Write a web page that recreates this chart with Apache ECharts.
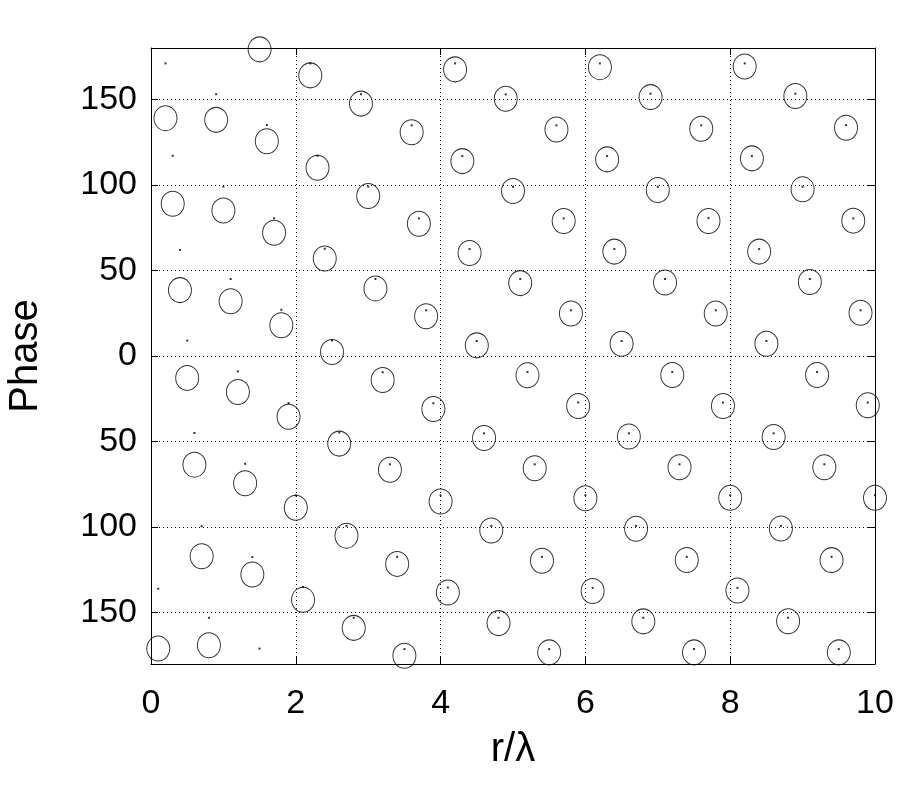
<!DOCTYPE html>
<html>
<head>
<meta charset="utf-8">
<script src="https://cdn.jsdelivr.net/npm/echarts@6/dist/echarts.min.js"></script>
<style>
html,body{margin:0;padding:0;background:#fff;}
#chart{width:900px;height:800px;}
</style>
</head>
<body>
<div id="chart"></div>
<script>
// r / lambda sample positions
const rOverLambda = [
 0.1,0.2,0.3,0.4,0.5,0.6,0.7,0.8,0.9,1.0,
 1.1,1.2,1.3,1.4,1.5,1.6,1.7,1.8,1.9,2.0,
 2.1,2.2,2.3,2.4,2.5,2.6,2.7,2.8,2.9,3.0,
 3.1,3.2,3.3,3.4,3.5,3.6,3.7,3.8,3.9,4.0,
 4.1,4.2,4.3,4.4,4.5,4.6,4.7,4.8,4.9,5.0,
 5.1,5.2,5.3,5.4,5.5,5.6,5.7,5.8,5.9,6.0,
 6.1,6.2,6.3,6.4,6.5,6.6,6.7,6.8,6.9,7.0,
 7.1,7.2,7.3,7.4,7.5,7.6,7.7,7.8,7.9,8.0,
 8.1,8.2,8.3,8.4,8.5,8.6,8.7,8.8,8.9,9.0,
 9.1,9.2,9.3,9.4,9.5,9.6,9.7,9.8,9.9,10.0
];
// phase shown by open circles
const circlePhase = [
 -171,139,89,38.5,-12.8,-63.5,-117,-169,138,85,
 32,-21,-74.4,-127.7,179.2,125.5,72,18,-35.5,-88.7,
 -142.5,164,110,57,2.3,-51.2,-105,-158.9,147.5,93.5,
 39.5,-14,-66.5,-121.5,-175.2,130.8,77.3,23.2,-31,-85,
 -138.2,167.5,113.9,60.2,6.2,-47.9,-102,-156.1,150.3,96.4,
 42.6,-11.3,-65.6,-119.7,-173.2,132.4,78.9,24.8,-29.2,-83.1,
 -137.3,168.8,114.9,61,7.2,-47.1,-101,-155.1,151.3,97,
 43,-11.1,-65,-119.2,-173.2,132.8,78.9,24.8,-29.2,-82.9,
 -137,169.2,115.5,61,7.2,-47.3,-100.8,-155,151.9,97.4,
 43.2,-11.1,-65,-119.3,-173.2,133.4,79.1,25.3,-28.8,-82.9
];
// phase shown by small dots
const dotPhase = [
 -136,171,117,62,9,-45,-99.5,-153,153,99,
 45,-9,-63,-117.5,-171,135,80.5,27,-27.5,-81.5,
 -135,171,117,62.7,9,-44.7,-99.3,-153,153,99,
 45,-9.5,-63.3,-117.4,-171.3,134.8,80.4,26.7,-27.6,-81.4,
 -135.3,171,116.8,62.5,8.8,-45.2,-99.3,-153,152.9,98.9,
 45,-9.3,-63.3,-117.4,-171.3,134.8,80.4,26.7,-27.2,-81.4,
 -135.5,171,116.8,62.5,8.8,-45.2,-99.3,-153,153.3,98.9,
 45,-9.3,-63.3,-117.4,-171.3,134.8,80.6,26.7,-27.2,-81.4,
 -135.5,171,116.8,62.5,8.8,-45.2,-99.3,-153,153.3,98.9,
 45,-9.3,-63.3,-117.4,-171.3,134.9,80.4,26.7,-27.2,-81.4
];
const xTickValues = [0, 2, 4, 6, 8, 10];
const yTickValues = [-150, -100, -50, 0, 50, 100, 150];
const yTickLabels = ['150', '100', '50', '0', '50', '100', '150'];

const FONT = 'Liberation Sans, Arial, Helvetica, sans-serif';
const chart = echarts.init(document.getElementById('chart'), null, {renderer: 'canvas'});

const circleData = rOverLambda.map((x, i) => [x, circlePhase[i]]);
const dotData = rOverLambda.map((x, i) => [x, dotPhase[i]]);

const tickStyle = {show: true, inside: true, length: 7, lineStyle: {color: '#000', width: 1}};
const lineStyleAxis = {show: true, onZero: false, lineStyle: {color: '#000', width: 1}};

chart.setOption({
  animation: false,
  backgroundColor: '#fff',
  grid: {left: 151, right: 25, top: 48, bottom: 136, containLabel: false, outerBoundsMode: 'none'},
  xAxis: [{
    type: 'value', min: 0, max: 10, interval: 2,
    position: 'bottom',
    name: 'r/\u03bb', nameLocation: 'middle', nameGap: 66,
    nameTextStyle: {fontFamily: FONT, fontSize: 40, color: '#000'},
    axisLine: lineStyleAxis,
    axisTick: tickStyle,
    axisLabel: {fontFamily: FONT, fontSize: 34, color: '#000', margin: 23,
      formatter: v => (xTickValues.indexOf(v) >= 0 ? String(v) : '')},
    splitLine: {show: true, lineStyle: {color: '#000', width: 1, type: [1, 3]}}
  }, {
    type: 'value', min: 0, max: 10, interval: 2, position: 'top',
    axisLine: lineStyleAxis, axisTick: tickStyle, axisLabel: {show: false}, splitLine: {show: false}
  }],
  yAxis: [{
    type: 'value', min: -180, max: 180,
    position: 'left',
    name: 'Phase', nameLocation: 'middle', nameGap: 105, nameRotate: 90,
    nameTextStyle: {fontFamily: FONT, fontSize: 40, color: '#000'},
    axisLine: lineStyleAxis,
    axisTick: Object.assign({customValues: yTickValues}, tickStyle),
    axisLabel: {fontFamily: FONT, fontSize: 34, color: '#000', margin: 14,
      customValues: yTickValues,
      formatter: v => { const i = yTickValues.indexOf(v); return i >= 0 ? yTickLabels[i] : ''; }},
    splitLine: {show: false}
  }, {
    type: 'value', min: -180, max: 180, position: 'right',
    axisLine: lineStyleAxis,
    axisTick: Object.assign({customValues: yTickValues}, tickStyle),
    axisLabel: {show: false, customValues: yTickValues}, splitLine: {show: false}
  }],
  series: [{
    name: 'circles', type: 'scatter', xAxisIndex: 0, yAxisIndex: 0,
    data: circleData, symbol: 'circle', symbolSize: [23, 25], clip: false,
    itemStyle: {color: 'rgba(0,0,0,0)', borderColor: '#000', borderWidth: 1},
    z: 3,
    markLine: {
      silent: true, symbol: 'none', label: {show: false}, animation: false,
      lineStyle: {color: '#000', width: 1, type: [1, 3]},
      data: yTickValues.map(v => ({yAxis: v}))
    }
  }, {
    name: 'dots', type: 'scatter', xAxisIndex: 0, yAxisIndex: 0,
    data: dotData, symbol: 'rect', symbolSize: 2, clip: false,
    itemStyle: {color: '#000'}, z: 4
  }]
});
</script>
</body>
</html>
